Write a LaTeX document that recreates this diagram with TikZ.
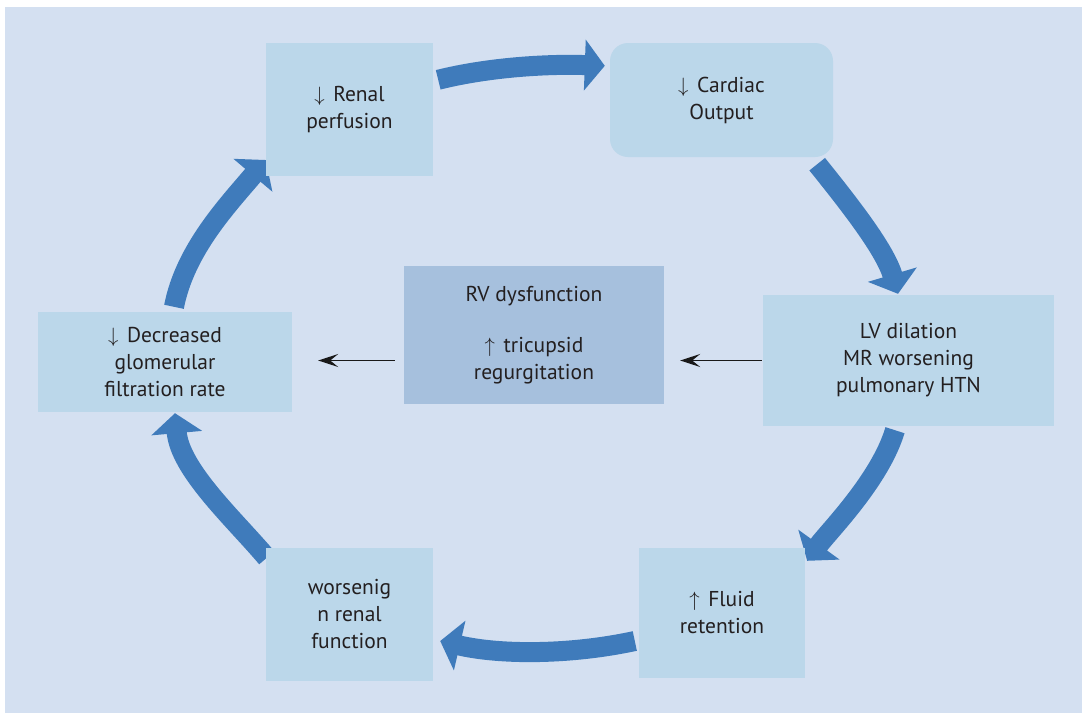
\documentclass[tikz,border=0pt]{standalone}
\usepackage{fontspec}
\setmainfont{PT Sans}
\usetikzlibrary{arrows.meta}
\definecolor{bgblue}{HTML}{D4E0F1}
\definecolor{boxblue}{HTML}{BBD7EA}
\definecolor{coreblue}{HTML}{A6C0DD}
\definecolor{flowblue}{HTML}{3F7BBB}
\definecolor{inktext}{HTML}{231F20}
\pgfdeclarelayer{paper}
\pgfdeclarelayer{flow}
\pgfsetlayers{paper,flow,main}
\newcommand{\dn}{$\downarrow$\hspace{0.4em}}
\newcommand{\upa}{$\uparrow$\hspace{0.4em}}
\tikzset{
  stagebox/.style={fill=boxblue, draw=none, inner sep=0pt, align=center,
    text=inktext, font=\fontsize{21.5}{27}\selectfont},
  corebox/.style={stagebox, fill=coreblue},
  flowarrow/.style={draw=flowblue, line width=20pt,
    -{Triangle[length=20pt,width=50pt]}},
  thinarrow/.style={draw=black!90, line width=1.2pt,
    -{Stealth[length=20pt,width=13pt,inset=8pt]}},
}
\begin{document}
\begin{tikzpicture}[x=1pt,y=1pt]
  \useasboundingbox (0,0) rectangle (1082,-713);
  \begin{pgfonlayer}{paper}
    \fill[bgblue] (5,-7) rectangle (1082,-713);
  \end{pgfonlayer}

  % stages of the cycle
  \node[stagebox, minimum width=167pt, minimum height=133pt] (renal) at (349.5,-109.5)
    {\dn Renal\\perfusion};
  \node[stagebox, minimum width=223pt, minimum height=114pt, rounded corners=18pt] (cardiac) at (721.5,-100)
    {\dn Cardiac\\Output};
  \node[stagebox, minimum width=291pt, minimum height=131pt] (lv) at (908.5,-360.5)
    {LV dilation\\MR worsening\\pulmonary HTN};
  \node[stagebox, minimum width=166pt, minimum height=130pt] (fluid) at (722,-613)
    {\upa Fluid\\retention};
  \node[stagebox, minimum width=167pt, minimum height=133pt] (worsen) at (349.5,-614.5)
    {worsenig\\n renal\\function};
  \node[stagebox, minimum width=254pt, minimum height=100pt] (gfr) at (165,-362)
    {\dn Decreased\\glomerular\\filtration rate};
  \node[corebox, minimum width=260pt, minimum height=138pt] (rv) at (534,-335)
    {RV dysfunction\\[24pt]\upa tricupsid\\regurgitation};

  % curved flow arrows, drawn beneath the boxes
  \begin{pgfonlayer}{flow}
  \draw[flowarrow] ([shift={(5,-37)}]renal.north east)
    .. controls +(52,13) and +(-55,2) .. ([shift={(-5,-23)}]cardiac.north west);
  \draw[flowarrow] ([shift={(-16,-7)}]cardiac.south east)
    .. controls +(33,-41) and +(-13,44) .. ([shift={(-10.5,1)}]lv.north);
  \draw[flowarrow] ([shift={(-13.5,-4)}]lv.south)
    .. controls +(-15,-50) and +(21,29) .. ([shift={(2,-13)}]fluid.north east);
  \draw[flowarrow] ([shift={(-4,-28)}]fluid.west)
    .. controls +(-65,-14) and +(60,-14) .. ([shift={(7,-26.5)}]worsen.east);
  \draw[flowarrow] ([shift={(1,-10)}]worsen.north west)
    .. controls +(-32,38) and +(5,-57) .. ([shift={(10,-1)}]gfr.south);
  \draw[flowarrow] ([shift={(9,5)}]gfr.north)
    .. controls +(11,57) and +(-38,-45) .. ([shift={(0,-50.5)}]renal.west);
  \end{pgfonlayer}

  % straight arrows through the centre
  \draw[thinarrow, shorten <=1pt, shorten >=16pt] (lv.west) -- (rv.east |- lv.west);
  \draw[thinarrow, shorten <=9pt, shorten >=26pt] (rv.west |- lv.west) -- (gfr.east |- lv.west);
\end{tikzpicture}
\end{document}
